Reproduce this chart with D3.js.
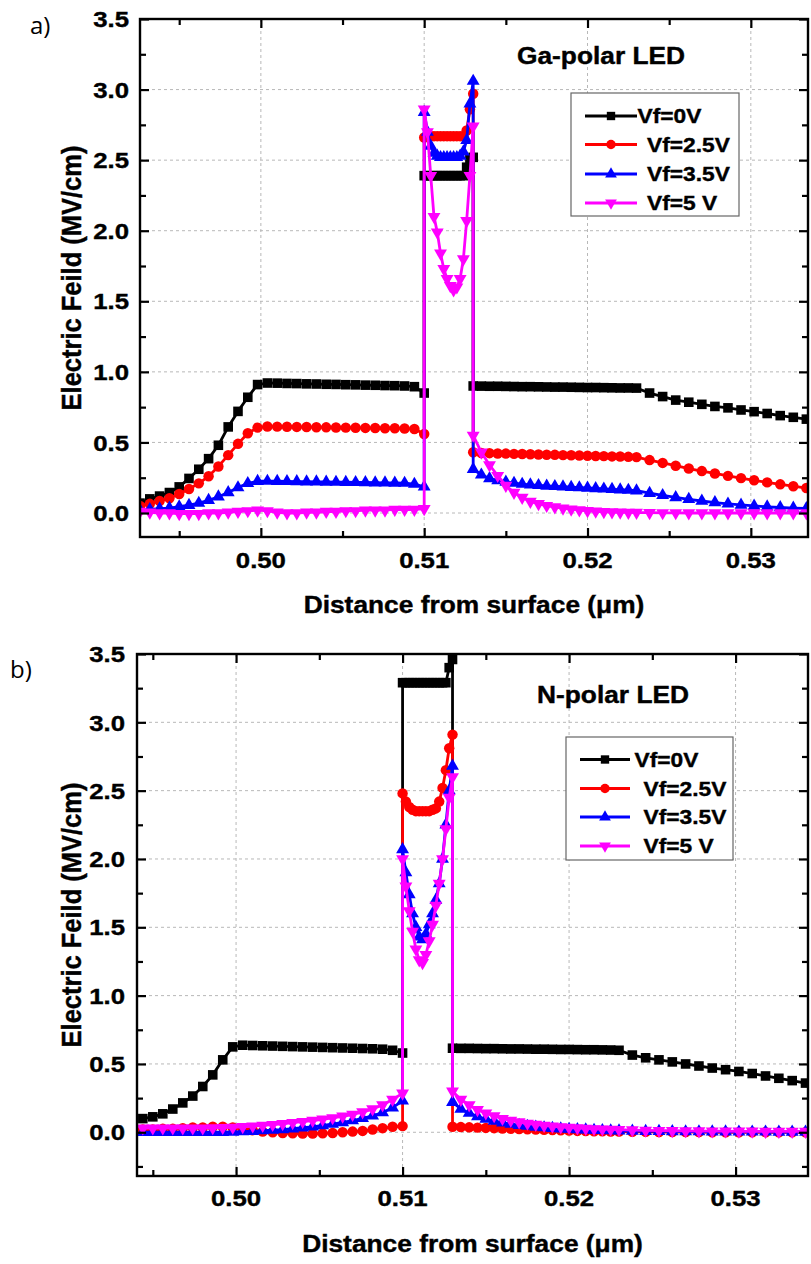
<!DOCTYPE html>
<html>
<head>
<meta charset="utf-8">
<script src="https://cdn.jsdelivr.net/npm/d3@7"></script>
<style>
  html, body { margin: 0; padding: 0; background: #fff; }
  svg { display: block; }
  text { font-family: "Liberation Sans", Arial, Helvetica, sans-serif; }
</style>
</head>
<body>
<svg id="fig" width="811" height="1264"></svg>
<script>
// ---------------- data ----------------
const seriesNames = ["Vf=0V", "Vf=2.5V", "Vf=3.5V", "Vf=5 V"];
const seriesColors = ["#000000", "#ff0000", "#0000ff", "#ff00ff"];

const xTickValues = [0.50, 0.51, 0.52, 0.53];
const xTickLabels = ["0.50", "0.51", "0.52", "0.53"];
const xMinorValues = [0.495, 0.505, 0.515, 0.525];
const yTickValues = [0.0, 0.5, 1.0, 1.5, 2.0, 2.5, 3.0, 3.5];
const yTickLabels = ["0.0", "0.5", "1.0", "1.5", "2.0", "2.5", "3.0", "3.5"];
const yMinorValues = [-0.25, 0.25, 0.75, 1.25, 1.75, 2.25, 2.75, 3.25];

// mesh positions (um): barrier left of the well, inside the well, barrier right of the well
const gaLeftX = [0.4926,0.4932,0.4938,0.4944,0.4950,0.4956,0.4962,0.4968,0.4974,0.4980,0.4986,0.4992,0.4998,
  0.5004,0.5010,0.5016,0.5022,0.5028,0.5034,0.5040,0.5046,0.5052,0.5058,0.5064,0.5070,0.5076,0.5082,0.5088,0.5094,0.5100];
const wellX = [0.5100,0.5102,0.5104,0.5106,0.5108,0.5110,0.5112,0.5114,0.5116,0.5118,0.5120,0.5122,0.5124,0.5126,0.5128,0.5130];
const gaRightX = [0.5130,0.5135,0.5140,0.5145,0.5150,0.5155,0.5160,0.5165,0.5170,0.5175,0.5180,0.5185,0.5190,0.5195,0.5200,
  0.5205,0.5210,0.5215,0.5220,0.5225,0.5230,
  0.5238,0.5246,0.5254,0.5262,0.5270,0.5278,0.5286,0.5294,0.5302,0.5310,0.5318,0.5326,0.5334];

const nLeftX = [0.4944,0.4950,0.4956,0.4962,0.4968,0.4974,0.4980,0.4986,0.4992,0.4998,
  0.5004,0.5010,0.5016,0.5022,0.5028,0.5034,0.5040,0.5046,0.5052,0.5058,0.5064,0.5070,0.5076,0.5082,0.5088,0.5094,0.5100];
const nRightX = [0.5130,0.5135,0.5140,0.5145,0.5150,0.5155,0.5160,0.5165,0.5170,0.5175,0.5180,0.5185,0.5190,0.5195,0.5200,
  0.5205,0.5210,0.5215,0.5220,0.5225,0.5230,
  0.5238,0.5246,0.5254,0.5262,0.5270,0.5278,0.5286,0.5294,0.5302,0.5310,0.5318,0.5326,0.5334,0.5342];

// Ga-polar LED, electric field (MV/cm)
const gaV0 = [
  0.07,0.10,0.12,0.145,0.185,0.245,0.31,0.385,0.48,0.61,0.72,0.82,0.91,
  0.921,0.920,0.918,0.917,0.915,0.914,0.912,0.911,0.909,0.908,0.906,0.905,0.903,0.902,0.900,0.895,0.85,
  2.39,2.39,2.39,2.39,2.39,2.39,2.39,2.39,2.39,2.39,2.39,2.39,2.39,2.45,2.51,2.52,
  0.90,0.899,0.898,0.898,0.897,0.896,0.895,0.895,0.894,0.893,0.892,0.892,0.891,0.890,0.889,0.889,0.888,0.887,0.886,0.886,0.885,
  0.85,0.825,0.80,0.785,0.77,0.755,0.745,0.73,0.718,0.705,0.69,0.678,0.665
];
const gaV25 = [
  0.05,0.065,0.085,0.105,0.135,0.17,0.21,0.26,0.33,0.41,0.49,0.565,0.605,
  0.613,0.612,0.611,0.610,0.609,0.608,0.607,0.606,0.605,0.604,0.603,0.602,0.601,0.600,0.599,0.595,0.56,
  2.66,2.67,2.67,2.67,2.67,2.67,2.67,2.67,2.67,2.67,2.67,2.67,2.67,2.71,2.86,2.97,
  0.43,0.425,0.424,0.422,0.421,0.419,0.418,0.416,0.415,0.413,0.412,0.410,0.409,0.407,0.406,0.404,0.403,0.401,0.400,0.398,0.396,
  0.375,0.355,0.335,0.315,0.297,0.28,0.263,0.247,0.232,0.217,0.203,0.19,0.177
];
const gaV35 = [
  0.02,0.025,0.03,0.035,0.045,0.055,0.07,0.09,0.115,0.145,0.18,0.21,0.225,
  0.226,0.225,0.224,0.223,0.222,0.221,0.22,0.219,0.218,0.217,0.216,0.215,0.214,0.213,0.212,0.205,0.185,
  2.84,2.70,2.60,2.55,2.53,2.52,2.52,2.52,2.52,2.52,2.52,2.53,2.56,2.64,2.90,3.06,
  0.31,0.27,0.245,0.23,0.22,0.212,0.205,0.20,0.196,0.192,0.189,0.186,0.183,0.18,0.177,0.174,0.171,0.168,0.165,0.162,0.158,
  0.14,0.125,0.11,0.097,0.085,0.074,0.065,0.057,0.05,0.044,0.039,0.035,0.032
];
const gaV5 = [
  0.01,0.005,0.0,0.0,-0.005,-0.005,-0.005,0.0,0.0,0.005,0.01,0.015,0.02,
  0.015,0.005,0.0,0.0,0.005,0.005,0.01,0.01,0.015,0.015,0.02,0.02,0.02,0.025,0.025,0.025,0.03,
  2.86,2.70,2.39,2.10,1.99,1.84,1.73,1.66,1.61,1.58,1.60,1.66,1.80,2.07,2.39,2.74,
  0.55,0.43,0.34,0.265,0.195,0.145,0.11,0.082,0.065,0.052,0.042,0.034,0.027,0.021,0.016,0.012,0.009,0.007,0.005,0.004,0.003,
  0.002,0.001,0.001,0.0,0.0,0.0,0.0,0.0,0.0,0.0,0.0,0.0,0.0
];

// N-polar LED, electric field (MV/cm)
const nV0 = [
  0.10,0.113,0.135,0.17,0.215,0.265,0.335,0.42,0.53,0.625,
  0.637,0.635,0.633,0.631,0.629,0.627,0.625,0.623,0.621,0.619,0.617,0.615,0.613,0.611,0.608,0.60,0.58,
  3.29,3.29,3.29,3.29,3.29,3.29,3.29,3.29,3.29,3.29,3.29,3.29,3.29,3.29,3.40,3.46,
  0.615,0.614,0.614,0.613,0.612,0.612,0.611,0.610,0.610,0.609,0.608,0.608,0.607,0.606,0.606,0.605,0.604,0.604,0.603,0.602,0.600,
  0.565,0.545,0.53,0.515,0.50,0.485,0.47,0.458,0.445,0.43,0.412,0.395,0.378,0.36
];
const nV25 = [
  0.02,0.02,0.025,0.025,0.03,0.035,0.035,0.04,0.04,0.035,
  0.025,0.015,0.005,0.0,-0.005,-0.008,-0.01,-0.01,-0.008,-0.005,0.0,0.005,0.01,0.02,0.03,0.04,0.045,
  2.48,2.42,2.38,2.36,2.35,2.35,2.35,2.35,2.35,2.36,2.37,2.42,2.52,2.65,2.81,2.91,
  0.04,0.038,0.036,0.034,0.032,0.03,0.028,0.026,0.024,0.022,0.02,0.018,0.016,0.014,0.012,0.01,0.009,0.008,0.007,0.006,0.005,
  0.004,0.003,0.002,0.002,0.001,0.001,0.0,0.0,0.0,0.0,0.0,0.0,0.0,0.0
];
const nV35 = [
  0.0,0.0,0.0,0.0,0.0,0.0,0.0,0.0,0.0,0.002,
  0.005,0.008,0.012,0.016,0.02,0.026,0.033,0.04,0.05,0.06,0.072,0.086,0.102,0.12,0.145,0.18,0.23,
  2.07,1.90,1.74,1.60,1.50,1.43,1.41,1.45,1.52,1.60,1.70,1.82,2.00,2.25,2.50,2.68,
  0.22,0.17,0.14,0.115,0.097,0.082,0.07,0.06,0.052,0.045,0.039,0.034,0.03,0.026,0.023,0.02,0.018,0.016,0.014,0.012,0.011,
  0.009,0.008,0.007,0.006,0.005,0.005,0.004,0.004,0.003,0.003,0.003,0.002,0.002,0.002
];
const nV5 = [
  0.03,0.03,0.03,0.03,0.03,0.03,0.03,0.032,0.034,0.036,
  0.04,0.045,0.05,0.056,0.062,0.07,0.078,0.086,0.095,0.105,0.117,0.13,0.148,0.17,0.2,0.24,0.285,
  2.00,1.80,1.62,1.47,1.34,1.26,1.24,1.30,1.40,1.52,1.66,1.82,2.00,2.22,2.45,2.60,
  0.30,0.24,0.20,0.165,0.14,0.12,0.10,0.087,0.075,0.065,0.057,0.05,0.044,0.039,0.035,0.031,0.028,0.025,0.023,0.021,0.019,
  0.016,0.014,0.012,0.011,0.01,0.009,0.008,0.008,0.007,0.007,0.006,0.006,0.006,0.006
];

// ---------------- layout ----------------
const panels = [
  {
    key: "a", tag: "a)", tagX: 30, tagY: 34,
    title: "Ga-polar LED", titleX: 517, titleY: 64,
    left: 140, right: 808, top: 19, bottom: 537,
    xDomain: [0.4926, 0.5335], yDomain: [-0.17, 3.5],
    xs: [...gaLeftX, ...wellX, ...gaRightX],
    values: [gaV0, gaV25, gaV35, gaV5],
    yLabelX: 129, xLabelY: 568, xTitleY: 613, yTitleX: 81,
    legend: { x0: 571, y0: 93, x1: 739, y1: 216, rows: [116, 144.5, 174, 203], lx0: 585, lx1: 637, tx: [637.5, 647, 647, 647] }
  },
  {
    key: "b", tag: "b)", tagX: 10, tagY: 678,
    title: "N-polar LED", titleX: 537, titleY: 703,
    left: 137, right: 808, top: 654, bottom: 1176,
    xDomain: [0.49405, 0.53435], yDomain: [-0.32, 3.5],
    xs: [...nLeftX, ...wellX, ...nRightX],
    values: [nV0, nV25, nV35, nV5],
    yLabelX: 125, xLabelY: 1206, xTitleY: 1252, yTitleX: 81,
    legend: { x0: 566, y0: 737, x1: 733, y1: 860, rows: [759.5, 788.5, 817, 846], lx0: 580, lx1: 630, tx: [634.5, 643.5, 643.5, 643.5] }
  }
];

const symTypes = [d3.symbolSquare, d3.symbolCircle, d3.symbolTriangle, d3.symbolTriangle];
const symRotate = [0, 0, 0, 180];
const symSizes = [92, 86, 72, 72];
const legendSymSizes = [70, 70, 60, 60];

const svg = d3.select("#fig");
svg.append("rect").attr("width", 811).attr("height", 1264).attr("fill", "#ffffff");

// horizontally widened heavy text
function wideText(parent, x, y, str, size, sx, anchor) {
  return parent.append("text")
    .attr("transform", `translate(${x},${y}) scale(${sx},1)`)
    .attr("text-anchor", anchor || "start")
    .style("font-size", size + "px")
    .style("font-weight", "bold")
    .style("white-space", "pre")
    .attr("fill", "#000").attr("stroke", "#000").attr("stroke-width", 0.4)
    .text(str);
}

function markerPath(i, size) {
  return d3.symbol().type(symTypes[i]).size(size)();
}

panels.forEach(p => {
  const x = d3.scaleLinear().domain(p.xDomain).range([p.left, p.right]);
  const y = d3.scaleLinear().domain(p.yDomain).range([p.bottom, p.top]);
  const g = svg.append("g").attr("class", "panel-" + p.key);

  // dotted grid at the major ticks
  const grid = g.append("g").attr("stroke", "#b8b8b8").attr("stroke-width", 1).attr("stroke-dasharray", "3,3");
  grid.selectAll("line.gx").data(xTickValues).join("line").attr("class", "gx")
    .attr("x1", d => x(d)).attr("x2", d => x(d)).attr("y1", p.top).attr("y2", p.bottom);
  grid.selectAll("line.gy").data(yTickValues.filter(v => v < 3.5)).join("line").attr("class", "gy")
    .attr("y1", d => y(d)).attr("y2", d => y(d)).attr("x1", p.left).attr("x2", p.right);

  // curves
  const clipId = "clip-" + p.key;
  g.append("clipPath").attr("id", clipId).append("rect")
    .attr("x", p.left).attr("y", p.top).attr("width", p.right - p.left).attr("height", p.bottom - p.top);
  const plot = g.append("g").attr("clip-path", `url(#${clipId})`);
  const line = d3.line().x(d => x(d[0])).y(d => y(d[1]));

  p.values.forEach((vals, i) => {
    const pts = p.xs.map((xv, k) => [xv, vals[k]]);
    const sg = plot.append("g");
    sg.append("path").attr("d", line(pts)).attr("fill", "none")
      .attr("stroke", seriesColors[i]).attr("stroke-width", 2.8).attr("stroke-linejoin", "round");
    sg.selectAll("path.mk").data(pts).join("path").attr("class", "mk")
      .attr("d", markerPath(i, symSizes[i]))
      .attr("transform", d => `translate(${x(d[0])},${y(d[1])}) rotate(${symRotate[i]})`)
      .attr("fill", seriesColors[i]);
  });

  // axes with inward ticks on all four sides
  const axes = g.append("g");
  const styleAxis = (sel, w) => {
    sel.select(".domain").remove();
    sel.selectAll(".tick text").remove();
    sel.selectAll(".tick line").attr("stroke", "#000").attr("stroke-width", w);
  };
  axes.append("g").attr("transform", `translate(0,${p.bottom})`)
    .call(d3.axisBottom(x).tickValues(xTickValues).tickSize(-9)).call(s => styleAxis(s, 2.2));
  axes.append("g").attr("transform", `translate(0,${p.bottom})`)
    .call(d3.axisBottom(x).tickValues(xMinorValues).tickSize(-6)).call(s => styleAxis(s, 2.2));
  axes.append("g").attr("transform", `translate(0,${p.top})`)
    .call(d3.axisTop(x).tickValues(xTickValues).tickSize(-9)).call(s => styleAxis(s, 2.2));
  axes.append("g").attr("transform", `translate(0,${p.top})`)
    .call(d3.axisTop(x).tickValues(xMinorValues).tickSize(-6)).call(s => styleAxis(s, 2.2));
  const yMinorIn = yMinorValues.filter(v => v >= p.yDomain[0]);
  axes.append("g").attr("transform", `translate(${p.left},0)`)
    .call(d3.axisLeft(y).tickValues(yTickValues).tickSize(-9)).call(s => styleAxis(s, 2.2));
  axes.append("g").attr("transform", `translate(${p.left},0)`)
    .call(d3.axisLeft(y).tickValues(yMinorIn).tickSize(-6)).call(s => styleAxis(s, 2.2));
  axes.append("g").attr("transform", `translate(${p.right},0)`)
    .call(d3.axisRight(y).tickValues(yTickValues).tickSize(-9)).call(s => styleAxis(s, 2.2));
  axes.append("g").attr("transform", `translate(${p.right},0)`)
    .call(d3.axisRight(y).tickValues(yMinorIn).tickSize(-6)).call(s => styleAxis(s, 2.2));

  g.append("rect").attr("x", p.left).attr("y", p.top)
    .attr("width", p.right - p.left).attr("height", p.bottom - p.top)
    .attr("fill", "none").attr("stroke", "#000").attr("stroke-width", 2.4);

  // tick labels
  yTickValues.forEach((v, k) => wideText(g, p.yLabelX, y(v) + 8.2, yTickLabels[k], 23, 1.12, "end"));
  xTickValues.forEach((v, k) => wideText(g, x(v), p.xLabelY, xTickLabels[k], 23, 1.12, "middle"));

  // axis titles
  wideText(g, (p.left + p.right) / 2, p.xTitleY, "Distance from surface (\u03bcm)", 23.5, 1.12, "middle");
  g.append("text")
    .attr("transform", `translate(${p.yTitleX},${(p.top + p.bottom) / 2}) scale(1.12,1) rotate(-90)`)
    .attr("text-anchor", "middle").style("font-size", "25.5px").style("font-weight", "bold")
    .attr("stroke", "#000").attr("stroke-width", 0.4)
    .text("Electric Feild (MV/cm)");

  // panel tag and title
  g.append("text").attr("x", p.tagX).attr("y", p.tagY)
    .style("font-family", "'Open Sans', 'DejaVu Sans', sans-serif").style("font-size", "24px")
    .text(p.tag);
  wideText(g, p.titleX, p.titleY, p.title, 23.5, 1.12, "start");

  // legend
  const L = p.legend;
  const lg = g.append("g");
  lg.append("rect").attr("x", L.x0).attr("y", L.y0).attr("width", L.x1 - L.x0).attr("height", L.y1 - L.y0)
    .attr("fill", "#fff").attr("stroke", "#666").attr("stroke-width", 1.2);
  seriesNames.forEach((name, i) => {
    const ry = L.rows[i];
    lg.append("line").attr("x1", L.lx0).attr("x2", L.lx1).attr("y1", ry).attr("y2", ry)
      .attr("stroke", seriesColors[i]).attr("stroke-width", 2.8);
    lg.append("path").attr("d", markerPath(i, legendSymSizes[i]))
      .attr("transform", `translate(${(L.lx0 + L.lx1) / 2},${ry}) rotate(${symRotate[i]})`)
      .attr("fill", seriesColors[i]);
    wideText(lg, L.tx[i], ry + 7.4, name, 20.5, 1.11, "start");
  });
});
</script>
</body>
</html>
